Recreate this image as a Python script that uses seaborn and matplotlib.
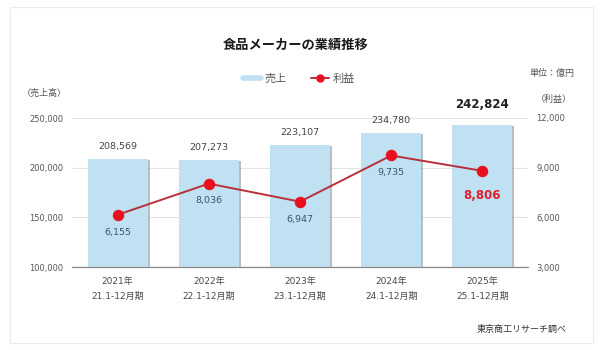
import numpy as np
import pandas as pd
import matplotlib
matplotlib.use("Agg")
import matplotlib.pyplot as plt
import matplotlib.patheffects as pe
from matplotlib.lines import Line2D
from matplotlib.patches import Rectangle
from matplotlib.ticker import FuncFormatter, FixedLocator
import seaborn as sns

# ---- data ----
years = ["2021年", "2022年", "2023年", "2024年", "2025年"]
periods = ["21.1-12月期", "22.1-12月期", "23.1-12月期", "24.1-12月期", "25.1-12月期"]
sales = [208569, 207273, 223107, 234780, 242824]
profit = [6155, 8036, 6947, 9735, 8806]
sales_ticks = [100000, 150000, 200000, 250000]
profit_ticks = [3000, 6000, 9000, 12000]

sns.set_style("white")
plt.rcParams["font.family"] = ["DejaVu Sans", "Noto Sans CJK JP"]
CJK = ["Noto Sans CJK JP", "DejaVu Sans"]

BAR = "#bfe1f2"
LINE = "#b8303a"
MARK = "#e8101e"
TXT = "#555555"

fig = plt.figure(figsize=(6, 3.5), dpi=100)
ax = fig.add_axes([72 / 600, 1 - 267 / 350, (528 - 72) / 600, (267 - 118) / 350])

df = pd.DataFrame({"year": years, "sales": sales, "profit": profit})
sns.barplot(data=df, x="year", y="sales", color=BAR, saturation=1, width=0.66, ax=ax,
            zorder=2, linewidth=0, edgecolor="none")
for p in ax.patches:
    p.set_linewidth(0)
    p.set_path_effects([pe.SimplePatchShadow(offset=(1.4, -0.7), shadow_rgbFace="#8a959c", alpha=0.6), pe.Normal()])

ax.set_ylim(100000, 250000)
ax.set_xlim(-0.5, 4.5)
ax.yaxis.set_major_locator(FixedLocator(sales_ticks))
ax.yaxis.set_major_formatter(FuncFormatter(lambda v, _: f"{int(v):,}"))
ax.grid(axis="y", color="#e3e3e3", lw=0.8, zorder=0)
ax.set_axisbelow(True)
for s in ["top", "left", "right"]:
    ax.spines[s].set_visible(False)
ax.spines["bottom"].set_color("#8a8a8a")
ax.spines["bottom"].set_linewidth(0.9)
ax.set_xlabel("")
ax.set_ylabel("")
ax.set_xticks(range(len(years)))
ax.set_xticklabels([f"{y}\n{p}" for y, p in zip(years, periods)], linespacing=1.9)
ax.set_xticks([i - 0.5 for i in range(len(years) + 1)], minor=True)
ax.tick_params(axis="x", which="major", length=0, pad=7, labelsize=6.5, labelcolor="#4a4a4a")
ax.tick_params(axis="x", which="minor", length=4, width=0.8, color="#8a8a8a", direction="out")
ax.tick_params(axis="y", length=0, labelsize=6, labelcolor=TXT, pad=6)

for i, v in enumerate(sales):
    last = i == len(sales) - 1
    ax.annotate(f"{v:,}", (i, v), xytext=(0, 10 if last else 9), textcoords="offset points",
                ha="center", va="bottom" if last else "center",
                fontsize=8.5 if last else 6.8, fontweight="bold" if last else "normal",
                color="#222222" if last else "#444444", zorder=5)

ax2 = ax.twinx()
ax2.set_position(ax.get_position())
sns.lineplot(x=np.arange(len(profit)), y=profit, ax=ax2, color=LINE, lw=1.4, marker="o",
             markersize=7.5, markerfacecolor=MARK, markeredgecolor=MARK, zorder=4)
ax2.set_ylim(3000, 12000)
ax2.set_xlim(-0.5, 4.5)
ax2.yaxis.set_major_locator(FixedLocator(profit_ticks))
ax2.yaxis.set_major_formatter(FuncFormatter(lambda v, _: f"{int(v):,}"))
ax2.tick_params(axis="y", length=0, labelsize=6, labelcolor=TXT, pad=6)
for s in ["top", "left", "right", "bottom"]:
    ax2.spines[s].set_visible(False)
ax2.set_ylabel("")
ax2.grid(False)

for i, v in enumerate(profit):
    last = i == len(profit) - 1
    ax2.annotate(f"{v:,}", (i, v), xytext=(0, -17.5 if last else -12.5), textcoords="offset points",
                 ha="center", va="center",
                 fontsize=8.5 if last else 6.8, fontweight="bold" if last else "normal",
                 color="#e0202f" if last else "#3d5268", zorder=5)

# texts
fig.text(296 / 600, 1 - 45 / 350, "食品メーカーの業績推移", ha="center", va="center",
         fontsize=9.5, fontweight="bold", color="#1a1a1a", family=CJK)
fig.text(44 / 600, 1 - 93 / 350, "（売上高）", ha="center", va="center", fontsize=6.5, color=TXT, family=CJK)
fig.text(552 / 600, 1 - 73 / 350, "単位：億円", ha="center", va="center", fontsize=6.5, color=TXT, family=CJK)
fig.text(554 / 600, 1 - 99 / 350, "（利益）", ha="center", va="center", fontsize=6.5, color=TXT, family=CJK)
fig.text(567 / 600, 1 - 329 / 350, "東京商工リサーチ調べ", ha="right", va="center", fontsize=6.5,
         color="#333333", family=CJK)

handles = [Line2D([], [], color=BAR, lw=4),
           Line2D([], [], color=LINE, lw=1.4, marker="o", markersize=5,
                  markerfacecolor=MARK, markeredgecolor=MARK)]
fig.legend(handles, ["売上", "利益"], loc="center", bbox_to_anchor=(299 / 600, 1 - 79 / 350),
           ncol=2, frameon=False, prop={"family": CJK, "size": 8}, handlelength=1.6,
           handletextpad=0.3, columnspacing=2.2, labelcolor=TXT)

fig.patches.append(Rectangle((10 / 600, 1 - 343 / 350), 583 / 600, 336 / 350,
                             transform=fig.transFigure, fill=False, edgecolor="#ececec", lw=0.8))

fig.savefig("out.png", dpi=100)
